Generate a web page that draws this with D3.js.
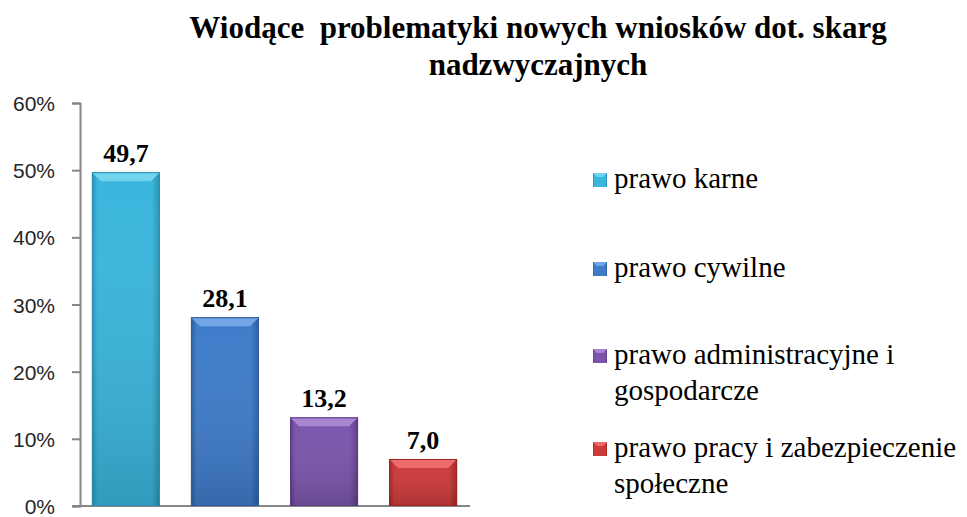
<!DOCTYPE html>
<html>
<head>
<meta charset="utf-8">
<script src="https://cdn.jsdelivr.net/npm/d3@7"></script>
<style>
  body { margin: 0; background: #fff; }
</style>
</head>
<body>
<script>
var w = 967;
var h = 517;
var serif = "'Liberation Serif', 'Times New Roman', serif";

// data
var categories = ["prawo karne", "prawo cywilne", "prawo administracyjne i gospodarcze", "prawo pracy i zabezpieczenie społeczne"];
var values = [49.7, 28.1, 13.2, 7.0];
var valueLabels = ["49,7", "28,1", "13,2", "7,0"];
var legendLines = [["prawo karne"], ["prawo cywilne"], ["prawo administracyjne i", "gospodarcze"], ["prawo pracy i zabezpieczenie", "społeczne"]];
var yTicks = [0, 10, 20, 30, 40, 50, 60];
var titleLines = ["Wiodące  problematyki nowych wniosków dot. skarg", "nadzwyczajnych"];

// colours: [light, mid, dark]
var colors = [
  ["#72d4ef", "#3ab6dc", "#2a8fb0"],
  ["#72a6e6", "#3f7cca", "#2c5d9e"],
  ["#a886d2", "#7b55ab", "#5a3c84"],
  ["#ec6c6c", "#cc3a3a", "#9e2626"]
];

var svg = d3.select("body").append("svg")
    .attr("width", w)
    .attr("height", h);

var defs = svg.append("defs");
colors.forEach(function(c, i) {
  var g = defs.append("linearGradient").attr("id", "grad" + i)
      .attr("x1", "0").attr("x2", "1").attr("y1", "0").attr("y2", "0");
  g.append("stop").attr("offset", "0%").attr("stop-color", c[2]);
  g.append("stop").attr("offset", "8%").attr("stop-color", c[1]);
  g.append("stop").attr("offset", "88%").attr("stop-color", c[1]);
  g.append("stop").attr("offset", "100%").attr("stop-color", c[2]);
  var v = defs.append("linearGradient").attr("id", "vgrad" + i)
      .attr("x1", "0").attr("x2", "0").attr("y1", "0").attr("y2", "1");
  v.append("stop").attr("offset", "0%").attr("stop-color", "#fff").attr("stop-opacity", 0);
  v.append("stop").attr("offset", "100%").attr("stop-color", "#000").attr("stop-opacity", 0.15);
});

var x = d3.scaleBand()
    .domain(categories)
    .range([80, 469])
    .paddingInner(0.313)
    .paddingOuter(0.12);

var y = d3.scaleLinear()
    .domain([0, 60])
    .range([506, 103]);

// title
svg.append("g").selectAll("text")
    .data(titleLines)
    .enter().append("text")
    .attr("x", 538)
    .attr("y", function(d, i) { return 38 + i * 37; })
    .attr("text-anchor", "middle")
    .style("font-family", serif)
    .style("font-weight", "bold")
    .style("font-size", "31px")
    .style("white-space", "pre")
    .attr("fill", "#000")
    .text(function(d) { return d; });

// y axis
var yAxis = d3.axisLeft(y)
    .tickValues(yTicks)
    .tickFormat(function(d) { return d + "%"; })
    .tickSize(8)
    .tickPadding(17);

var gy = svg.append("g")
    .attr("transform", "translate(80,0)")
    .call(yAxis);
gy.select(".domain").attr("stroke", "#868686").attr("stroke-width", 2);
gy.selectAll(".tick line").attr("stroke", "#868686").attr("stroke-width", 2);
gy.selectAll(".tick text")
    .attr("fill", "#262626")
    .attr("dy", "0.36em")
    .style("font-family", "'Liberation Sans', Arial, sans-serif")
    .style("font-size", "21px");

// x axis line
svg.append("line")
    .attr("x1", 72).attr("x2", 470)
    .attr("y1", y(0)).attr("y2", y(0))
    .attr("stroke", "#868686").attr("stroke-width", 2);

// bars
var bars = svg.append("g").selectAll("g")
    .data(values)
    .enter().append("g");

bars.append("rect")
    .attr("x", function(d, i) { return x(categories[i]); })
    .attr("y", function(d) { return y(d); })
    .attr("width", x.bandwidth())
    .attr("height", function(d) { return y(0) - y(d); })
    .attr("fill", function(d, i) { return "url(#grad" + i + ")"; });

bars.append("rect")
    .attr("x", function(d, i) { return x(categories[i]); })
    .attr("y", function(d) { return y(d); })
    .attr("width", x.bandwidth())
    .attr("height", function(d) { return y(0) - y(d); })
    .attr("fill", function(d, i) { return "url(#vgrad" + i + ")"; });

// top bevel
var bev = 9;
bars.append("path")
    .attr("d", function(d, i) {
      var x0 = x(categories[i]), x1 = x0 + x.bandwidth(), y0 = y(d);
      return "M" + x0 + "," + y0 + "L" + x1 + "," + y0 + "L" + (x1 - bev) + "," + (y0 + bev) +
             "L" + (x0 + bev) + "," + (y0 + bev) + "Z";
    })
    .attr("fill", function(d, i) { return colors[i][0]; });

bars.append("rect")
    .attr("x", function(d, i) { return x(categories[i]) + 0.5; })
    .attr("y", function(d) { return y(d) + 0.5; })
    .attr("width", x.bandwidth() - 1)
    .attr("height", function(d) { return y(0) - y(d) - 1; })
    .attr("fill", "none")
    .attr("stroke", function(d, i) { return colors[i][2]; })
    .attr("stroke-width", 1);

// value labels
bars.append("text")
    .attr("x", function(d, i) { return x(categories[i]) + x.bandwidth() / 2; })
    .attr("y", function(d) { return y(d) - 10; })
    .attr("text-anchor", "middle")
    .style("font-family", serif)
    .style("font-weight", "bold")
    .style("font-size", "26px")
    .text(function(d, i) { return valueLabels[i]; });

// legend
var legendY = [188, 277, 364, 457];
var leg = svg.append("g").selectAll("g")
    .data(legendLines)
    .enter().append("g")
    .attr("transform", function(d, i) { return "translate(593," + legendY[i] + ")"; });

leg.append("rect")
    .attr("x", 0).attr("y", -15)
    .attr("width", 14).attr("height", 14)
    .attr("fill", function(d, i) { return "url(#grad" + i + ")"; });
leg.append("path")
    .attr("d", "M0,-15L14,-15L10,-11L4,-11Z")
    .attr("fill", function(d, i) { return colors[i][0]; });

leg.append("text")
    .style("font-family", serif)
    .style("font-size", "29px")
    .attr("fill", "#000")
    .selectAll("tspan")
    .data(function(d) { return d; })
    .enter().append("tspan")
    .attr("x", 21)
    .attr("y", function(d, j) { return j * 36; })
    .text(function(d) { return d; });
</script>
</body>
</html>
